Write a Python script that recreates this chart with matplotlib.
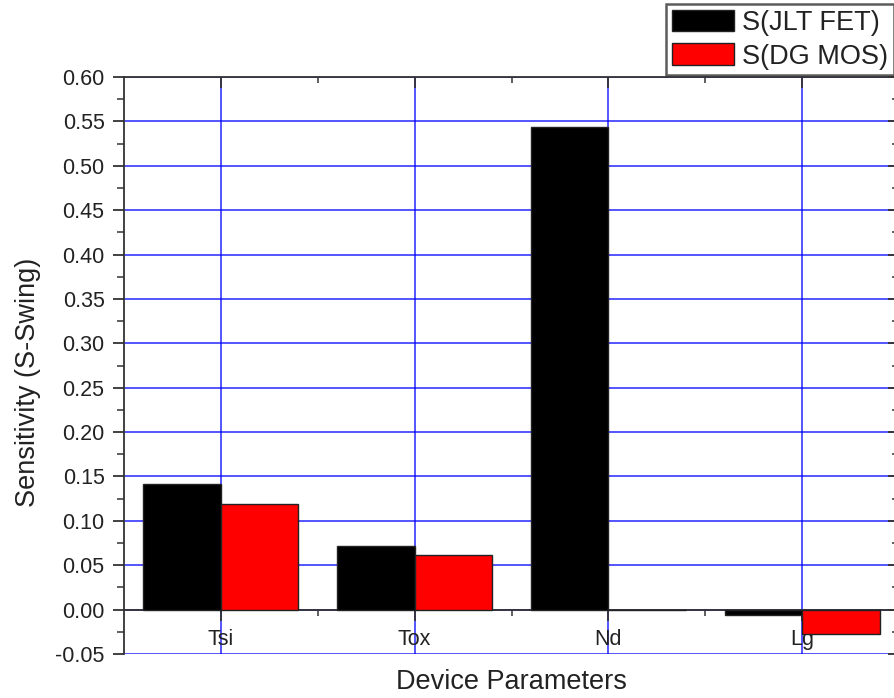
import matplotlib
matplotlib.use("Agg")
import matplotlib.pyplot as plt
import numpy as np
from matplotlib.ticker import MultipleLocator, FixedLocator

plt.rcParams['font.family'] = ['Liberation Sans', 'DejaVu Sans']

# Sensitivity of the subthreshold swing to each device parameter
parameters = ["Tsi", "Tox", "Nd", "Lg"]
jlt_fet = [0.141, 0.072, 0.544, -0.006]
dg_mos = [0.119, 0.061, 0.0, -0.027]
series_names = ["S(JLT FET)", "S(DG MOS)"]

fig = plt.figure(figsize=(8.94, 6.98), dpi=100)
ax = fig.add_axes([0.1387, 0.0630, 0.8669, 0.8267])

x = np.arange(1, len(parameters) + 1)
w = 0.4
ax.bar(x - w / 2, jlt_fet, w, color="black", edgecolor="#222222", linewidth=1.0,
       label=series_names[0], zorder=3)
ax.bar(x + w / 2, dg_mos, w, color="#ff0000", edgecolor="#222222", linewidth=1.0,
       label=series_names[1], zorder=3)

ax.set_xlim(0.5, 4.5)
ax.set_ylim(-0.05, 0.60)

# Origin-style frame: x axis crossing at zero, mirrored ticks on top and right
spine_color = "#333333"
for s in ax.spines.values():
    s.set_color(spine_color)
    s.set_linewidth(1.3)
ax.spines['bottom'].set_position(('data', 0))

ax.xaxis.set_major_locator(FixedLocator(x))
ax.xaxis.set_minor_locator(FixedLocator([1.5, 2.5, 3.5]))
ax.set_xticklabels(parameters)
ax.yaxis.set_major_locator(MultipleLocator(0.05))
ax.yaxis.set_minor_locator(MultipleLocator(0.025))
ax.yaxis.set_major_formatter(plt.FormatStrFormatter("%.2f"))

ax.tick_params(axis='y', which='major', left=True, right=True, direction='out',
               length=8, width=1.3, color=spine_color, labelsize=15.5, pad=6,
               labelcolor="#222222")
ax.tick_params(axis='y', which='minor', left=True, right=True, length=5, width=1.1,
               color=spine_color)
ax.tick_params(axis='x', which='major', bottom=True, top=True, direction='out',
               length=8, width=1.3, color=spine_color, labelsize=15.5, pad=6,
               labelcolor="#222222")
ax.tick_params(axis='x', which='minor', bottom=True, top=True, length=4, width=1.1,
               color=spine_color)
# ticks on the mirrored sides point inward
for t in ax.yaxis.get_major_ticks() + ax.yaxis.get_minor_ticks():
    t.tick2line.set_marker(matplotlib.lines.TICKLEFT)
for t in ax.xaxis.get_major_ticks() + ax.xaxis.get_minor_ticks():
    t.tick2line.set_marker(matplotlib.lines.TICKDOWN)

# blue grid at the categories and at each major y step
ax.set_axisbelow(True)
ax.grid(True, which='major', color="#0000ff", linewidth=1.1, alpha=0.85, zorder=0)

ax.set_xlabel("Device Parameters", fontsize=19.5, color="#222222")
ax.xaxis.set_label_coords(0.5, -0.0485)
ax.xaxis.label.set_verticalalignment('center')
ax.set_ylabel("Sensitivity (S-Swing)", fontsize=19.5, color="#222222")
ax.yaxis.set_label_coords(-0.124, 0.47)
ax.yaxis.label.set_verticalalignment('center')

leg = fig.legend(loc='upper right', bbox_to_anchor=(0.9995, 0.994), fontsize=19.5,
                 handlelength=2.3, handleheight=0.85, handletextpad=0.3,
                 borderpad=0.2, labelspacing=0.28, borderaxespad=0.0,
                 fancybox=False, frameon=True)
leg.get_frame().set_edgecolor("#333333")
leg.get_frame().set_linewidth(1.8)
for txt in leg.get_texts():
    txt.set_color("#222222")

fig.savefig("out.png", dpi=100)
